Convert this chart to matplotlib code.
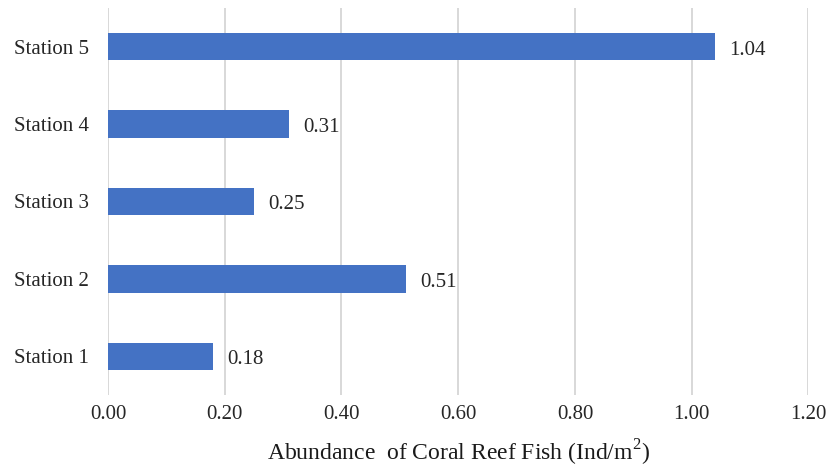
import numpy as np
import matplotlib.pyplot as plt

plt.rcParams['font.family'] = ['Liberation Serif', 'DejaVu Serif']
plt.rcParams['mathtext.fontset'] = 'custom'
plt.rcParams['mathtext.rm'] = 'Liberation Serif'

stations = ['Station 1', 'Station 2', 'Station 3', 'Station 4', 'Station 5']
abundance = [0.18, 0.51, 0.25, 0.31, 1.04]
xticks = [0.0, 0.2, 0.4, 0.6, 0.8, 1.0, 1.2]

fig = plt.figure(figsize=(8.27, 4.68), dpi=100)
ax = fig.add_axes([0.1306, 0.156, 0.847, 0.827])

y = np.arange(len(stations))
ax.barh(y, abundance, height=0.355, color='#4472C4', zorder=3)

for yi, v in zip(y, abundance):
    ax.annotate(f'{v:.2f}', xy=(v, yi), xytext=(10.5, -2.5), textcoords='offset points',
                va='center', ha='left', fontsize=15, color='#262626')

ax.set_xlim(0, 1.2)
ax.set_ylim(-0.5, len(stations) - 0.5)
ax.set_xticks(xticks)
ax.set_xticklabels([f'{t:.2f}' for t in xticks], fontsize=15, color='#262626')
ax.set_yticks(y)
ax.set_yticklabels(stations, fontsize=15, color='#262626')
ax.tick_params(axis='both', length=0)
ax.tick_params(axis='y', pad=14)
ax.tick_params(axis='x', pad=7)
ax.grid(axis='x', color='#d6d6d6', linewidth=1.3, zorder=0)
for s in ax.spines.values():
    s.set_visible(False)

ax.set_xlabel('Abundance  of Coral Reef Fish (Ind/m$^2$)', fontsize=17,
              color='#1a1a1a', labelpad=10)

fig.savefig('out.png', dpi=100)
